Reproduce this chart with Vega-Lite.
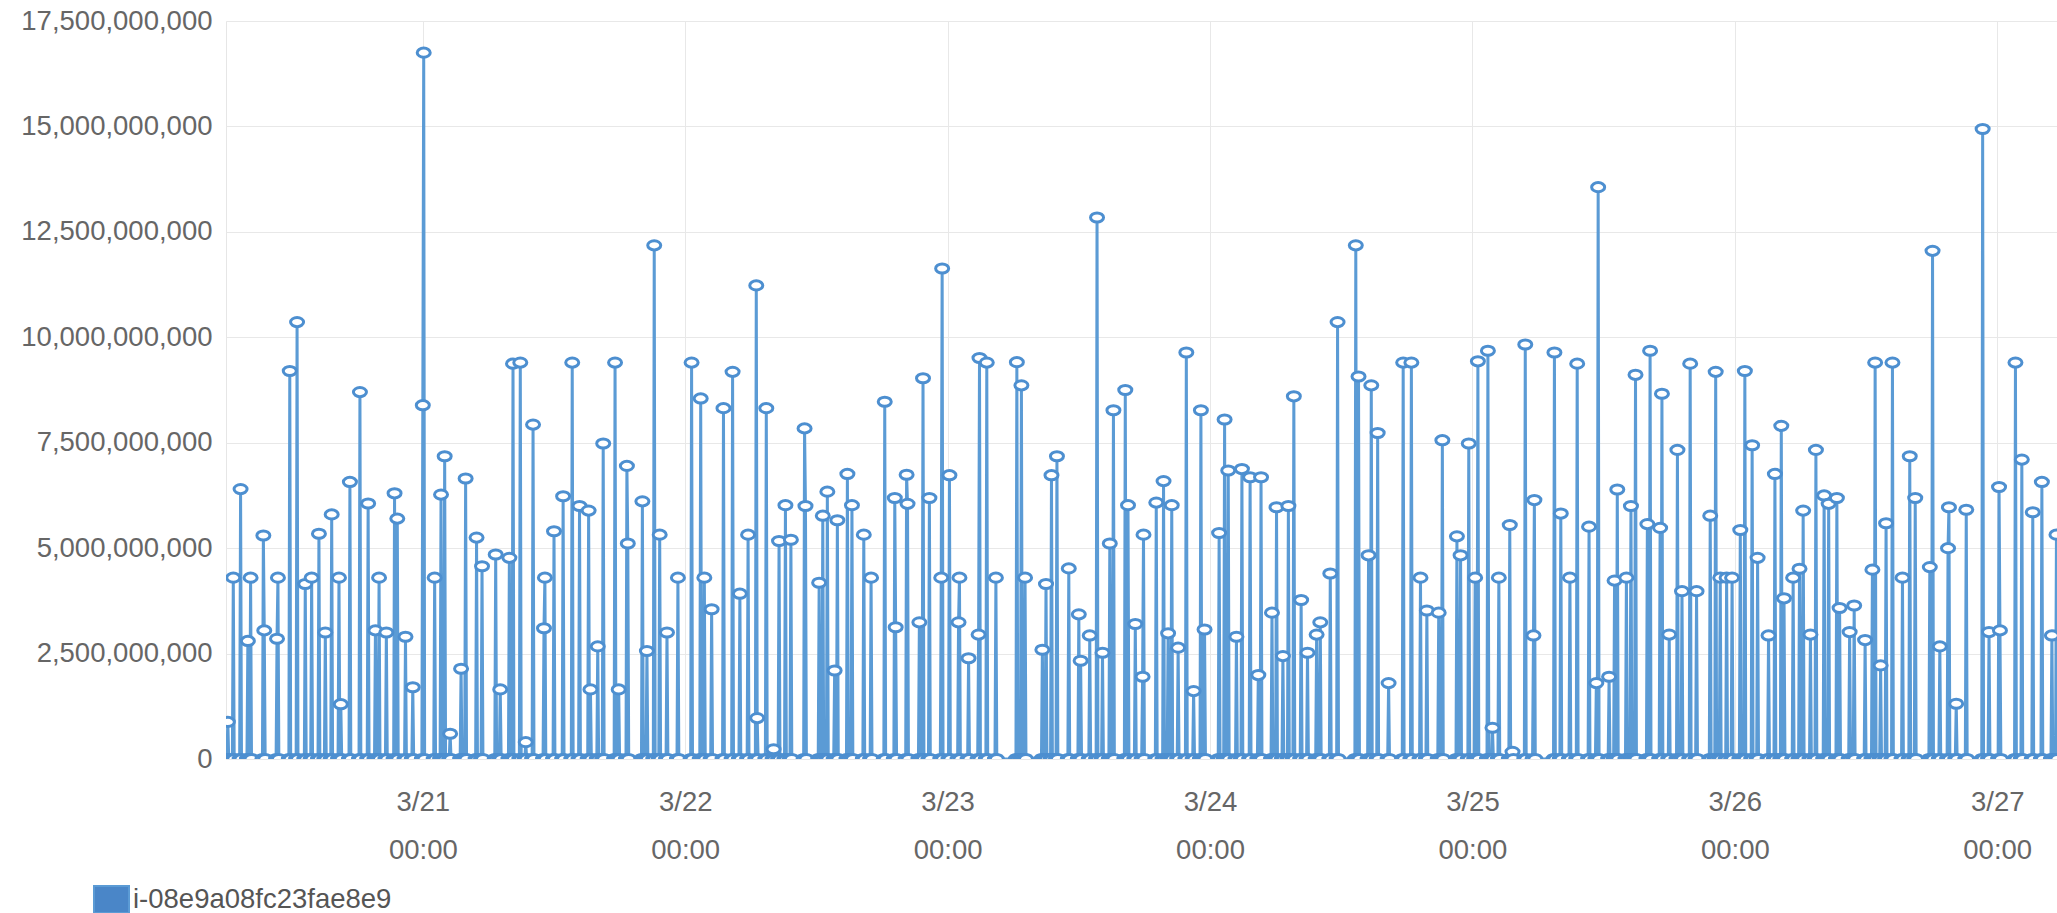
{
"$schema": "https://vega.github.io/schema/vega-lite/v6.json",
"width": 1831,
"height": 738,
"autosize": {"type": "none"},
"padding": {"left": 226, "top": 21, "right": 0, "bottom": 154},
"background": "white",
"config": {"view": {"stroke": "#e6e6e6"}, "font": "Liberation Sans"},
"data": {"values": [
{"t":"2018-03-20T06:00","v":0},{"t":"2018-03-20T06:05","v":0},{"t":"2018-03-20T06:10","v":8.8e8},{"t":"2018-03-20T06:15","v":0},
{"t":"2018-03-20T06:35","v":0},{"t":"2018-03-20T06:40","v":4.3e9},{"t":"2018-03-20T06:45","v":0},
{"t":"2018-03-20T07:15","v":0},{"t":"2018-03-20T07:20","v":6.4e9},{"t":"2018-03-20T07:25","v":0},
{"t":"2018-03-20T07:55","v":0},{"t":"2018-03-20T08:00","v":2.8e9},{"t":"2018-03-20T08:05","v":0},
{"t":"2018-03-20T08:10","v":0},{"t":"2018-03-20T08:15","v":4.3e9},{"t":"2018-03-20T08:20","v":0},
{"t":"2018-03-20T09:20","v":0},{"t":"2018-03-20T09:25","v":5.3e9},{"t":"2018-03-20T09:30","v":3.05e9},{"t":"2018-03-20T09:35","v":0},
{"t":"2018-03-20T10:35","v":0},{"t":"2018-03-20T10:40","v":2.85e9},{"t":"2018-03-20T10:45","v":4.3e9},{"t":"2018-03-20T10:50","v":0},
{"t":"2018-03-20T11:45","v":0},{"t":"2018-03-20T11:50","v":9.2e9},{"t":"2018-03-20T11:55","v":0},
{"t":"2018-03-20T12:25","v":0},{"t":"2018-03-20T12:30","v":1.036e10},{"t":"2018-03-20T12:35","v":0},
{"t":"2018-03-20T13:10","v":0},{"t":"2018-03-20T13:15","v":4.15e9},{"t":"2018-03-20T13:20","v":0},
{"t":"2018-03-20T13:45","v":0},{"t":"2018-03-20T13:50","v":4.3e9},{"t":"2018-03-20T13:55","v":0},
{"t":"2018-03-20T14:25","v":0},{"t":"2018-03-20T14:30","v":5.34e9},{"t":"2018-03-20T14:35","v":0},
{"t":"2018-03-20T15:00","v":0},{"t":"2018-03-20T15:05","v":3.0e9},{"t":"2018-03-20T15:10","v":0},
{"t":"2018-03-20T15:35","v":0},{"t":"2018-03-20T15:40","v":5.8e9},{"t":"2018-03-20T15:45","v":0},
{"t":"2018-03-20T16:15","v":0},{"t":"2018-03-20T16:20","v":4.3e9},{"t":"2018-03-20T16:25","v":0},{"t":"2018-03-20T16:30","v":1.3e9},{"t":"2018-03-20T16:35","v":0},
{"t":"2018-03-20T17:15","v":0},{"t":"2018-03-20T17:20","v":6.57e9},{"t":"2018-03-20T17:25","v":0},
{"t":"2018-03-20T18:10","v":0},{"t":"2018-03-20T18:15","v":8.7e9},{"t":"2018-03-20T18:20","v":0},
{"t":"2018-03-20T18:55","v":0},{"t":"2018-03-20T19:00","v":6.06e9},{"t":"2018-03-20T19:05","v":0},
{"t":"2018-03-20T19:35","v":0},{"t":"2018-03-20T19:40","v":3.05e9},{"t":"2018-03-20T19:45","v":0},
{"t":"2018-03-20T19:55","v":0},{"t":"2018-03-20T20:00","v":4.3e9},{"t":"2018-03-20T20:05","v":0},
{"t":"2018-03-20T20:35","v":0},{"t":"2018-03-20T20:40","v":3.0e9},{"t":"2018-03-20T20:45","v":0},
{"t":"2018-03-20T21:20","v":0},{"t":"2018-03-20T21:25","v":6.3e9},{"t":"2018-03-20T21:30","v":0},
{"t":"2018-03-20T21:35","v":0},{"t":"2018-03-20T21:40","v":5.7e9},{"t":"2018-03-20T21:45","v":0},
{"t":"2018-03-20T22:20","v":0},{"t":"2018-03-20T22:25","v":2.9e9},{"t":"2018-03-20T22:30","v":0},
{"t":"2018-03-20T23:00","v":0},{"t":"2018-03-20T23:05","v":1.7e9},{"t":"2018-03-20T23:10","v":0},
{"t":"2018-03-20T23:55","v":0},{"t":"2018-03-21T00:00","v":8.39e9},{"t":"2018-03-21T00:05","v":1.675e10},{"t":"2018-03-21T00:10","v":0},
{"t":"2018-03-21T01:00","v":0},{"t":"2018-03-21T01:05","v":4.3e9},{"t":"2018-03-21T01:10","v":0},
{"t":"2018-03-21T01:35","v":0},{"t":"2018-03-21T01:40","v":6.27e9},{"t":"2018-03-21T01:45","v":0},
{"t":"2018-03-21T01:55","v":0},{"t":"2018-03-21T02:00","v":7.18e9},{"t":"2018-03-21T02:05","v":0},
{"t":"2018-03-21T02:25","v":0},{"t":"2018-03-21T02:30","v":6.0e8},{"t":"2018-03-21T02:35","v":0},
{"t":"2018-03-21T03:25","v":0},{"t":"2018-03-21T03:30","v":2.14e9},{"t":"2018-03-21T03:35","v":0},
{"t":"2018-03-21T03:50","v":0},{"t":"2018-03-21T03:55","v":6.65e9},{"t":"2018-03-21T04:00","v":0},
{"t":"2018-03-21T04:50","v":0},{"t":"2018-03-21T04:55","v":5.25e9},{"t":"2018-03-21T05:00","v":0},
{"t":"2018-03-21T05:20","v":0},{"t":"2018-03-21T05:25","v":4.57e9},{"t":"2018-03-21T05:30","v":0},
{"t":"2018-03-21T06:35","v":0},{"t":"2018-03-21T06:40","v":4.85e9},{"t":"2018-03-21T06:45","v":0},
{"t":"2018-03-21T07:00","v":0},{"t":"2018-03-21T07:05","v":1.65e9},{"t":"2018-03-21T07:10","v":0},
{"t":"2018-03-21T07:50","v":0},{"t":"2018-03-21T07:55","v":4.77e9},{"t":"2018-03-21T08:00","v":0},
{"t":"2018-03-21T08:10","v":0},{"t":"2018-03-21T08:15","v":9.375e9},{"t":"2018-03-21T08:20","v":0},
{"t":"2018-03-21T08:50","v":0},{"t":"2018-03-21T08:55","v":9.4e9},{"t":"2018-03-21T09:00","v":0},
{"t":"2018-03-21T09:20","v":0},{"t":"2018-03-21T09:25","v":4.0e8},{"t":"2018-03-21T09:30","v":0},
{"t":"2018-03-21T10:00","v":0},{"t":"2018-03-21T10:05","v":7.93e9},{"t":"2018-03-21T10:10","v":0},
{"t":"2018-03-21T11:00","v":0},{"t":"2018-03-21T11:05","v":3.1e9},{"t":"2018-03-21T11:10","v":4.3e9},{"t":"2018-03-21T11:15","v":0},
{"t":"2018-03-21T11:55","v":0},{"t":"2018-03-21T12:00","v":5.4e9},{"t":"2018-03-21T12:05","v":0},
{"t":"2018-03-21T12:45","v":0},{"t":"2018-03-21T12:50","v":6.23e9},{"t":"2018-03-21T12:55","v":0},
{"t":"2018-03-21T13:35","v":0},{"t":"2018-03-21T13:40","v":9.4e9},{"t":"2018-03-21T13:45","v":0},
{"t":"2018-03-21T14:15","v":0},{"t":"2018-03-21T14:20","v":6.0e9},{"t":"2018-03-21T14:25","v":0},
{"t":"2018-03-21T15:05","v":0},{"t":"2018-03-21T15:10","v":5.89e9},{"t":"2018-03-21T15:15","v":0},{"t":"2018-03-21T15:20","v":1.65e9},{"t":"2018-03-21T15:25","v":0},
{"t":"2018-03-21T15:55","v":0},{"t":"2018-03-21T16:00","v":2.67e9},{"t":"2018-03-21T16:05","v":0},
{"t":"2018-03-21T16:25","v":0},{"t":"2018-03-21T16:30","v":7.48e9},{"t":"2018-03-21T16:35","v":0},
{"t":"2018-03-21T17:30","v":0},{"t":"2018-03-21T17:35","v":9.4e9},{"t":"2018-03-21T17:40","v":0},
{"t":"2018-03-21T17:50","v":0},{"t":"2018-03-21T17:55","v":1.65e9},{"t":"2018-03-21T18:00","v":0},
{"t":"2018-03-21T18:35","v":0},{"t":"2018-03-21T18:40","v":6.95e9},{"t":"2018-03-21T18:45","v":5.11e9},{"t":"2018-03-21T18:50","v":0},
{"t":"2018-03-21T20:00","v":0},{"t":"2018-03-21T20:05","v":6.11e9},{"t":"2018-03-21T20:10","v":0},
{"t":"2018-03-21T20:25","v":0},{"t":"2018-03-21T20:30","v":2.56e9},{"t":"2018-03-21T20:35","v":0},
{"t":"2018-03-21T21:05","v":0},{"t":"2018-03-21T21:10","v":1.218e10},{"t":"2018-03-21T21:15","v":0},
{"t":"2018-03-21T21:35","v":0},{"t":"2018-03-21T21:40","v":5.32e9},{"t":"2018-03-21T21:45","v":0},
{"t":"2018-03-21T22:15","v":0},{"t":"2018-03-21T22:20","v":3.0e9},{"t":"2018-03-21T22:25","v":0},
{"t":"2018-03-21T23:15","v":0},{"t":"2018-03-21T23:20","v":4.3e9},{"t":"2018-03-21T23:25","v":0},
{"t":"2018-03-22T00:30","v":0},{"t":"2018-03-22T00:35","v":9.4e9},{"t":"2018-03-22T00:40","v":0},
{"t":"2018-03-22T01:20","v":0},{"t":"2018-03-22T01:25","v":8.55e9},{"t":"2018-03-22T01:30","v":0},
{"t":"2018-03-22T01:40","v":0},{"t":"2018-03-22T01:45","v":4.3e9},{"t":"2018-03-22T01:50","v":0},
{"t":"2018-03-22T02:20","v":0},{"t":"2018-03-22T02:25","v":3.55e9},{"t":"2018-03-22T02:30","v":0},
{"t":"2018-03-22T03:25","v":0},{"t":"2018-03-22T03:30","v":8.32e9},{"t":"2018-03-22T03:35","v":0},
{"t":"2018-03-22T04:15","v":0},{"t":"2018-03-22T04:20","v":9.18e9},{"t":"2018-03-22T04:25","v":0},
{"t":"2018-03-22T04:55","v":0},{"t":"2018-03-22T05:00","v":3.92e9},{"t":"2018-03-22T05:05","v":0},
{"t":"2018-03-22T05:40","v":0},{"t":"2018-03-22T05:45","v":5.32e9},{"t":"2018-03-22T05:50","v":0},
{"t":"2018-03-22T06:25","v":0},{"t":"2018-03-22T06:30","v":1.123e10},{"t":"2018-03-22T06:35","v":9.7e8},{"t":"2018-03-22T06:40","v":0},
{"t":"2018-03-22T07:20","v":0},{"t":"2018-03-22T07:25","v":8.32e9},{"t":"2018-03-22T07:30","v":0},
{"t":"2018-03-22T08:00","v":0},{"t":"2018-03-22T08:05","v":2.3e8},{"t":"2018-03-22T08:10","v":0},
{"t":"2018-03-22T08:30","v":0},{"t":"2018-03-22T08:35","v":5.17e9},{"t":"2018-03-22T08:40","v":0},
{"t":"2018-03-22T09:05","v":0},{"t":"2018-03-22T09:10","v":6.02e9},{"t":"2018-03-22T09:15","v":0},
{"t":"2018-03-22T09:35","v":0},{"t":"2018-03-22T09:40","v":5.2e9},{"t":"2018-03-22T09:45","v":0},
{"t":"2018-03-22T10:50","v":0},{"t":"2018-03-22T10:55","v":7.84e9},{"t":"2018-03-22T11:00","v":6.0e9},{"t":"2018-03-22T11:05","v":0},
{"t":"2018-03-22T12:10","v":0},{"t":"2018-03-22T12:15","v":4.18e9},{"t":"2018-03-22T12:20","v":0},
{"t":"2018-03-22T12:30","v":0},{"t":"2018-03-22T12:35","v":5.77e9},{"t":"2018-03-22T12:40","v":0},
{"t":"2018-03-22T12:55","v":0},{"t":"2018-03-22T13:00","v":6.34e9},{"t":"2018-03-22T13:05","v":0},
{"t":"2018-03-22T13:35","v":0},{"t":"2018-03-22T13:40","v":2.1e9},{"t":"2018-03-22T13:45","v":0},
{"t":"2018-03-22T13:50","v":0},{"t":"2018-03-22T13:55","v":5.66e9},{"t":"2018-03-22T14:00","v":0},
{"t":"2018-03-22T14:45","v":0},{"t":"2018-03-22T14:50","v":6.76e9},{"t":"2018-03-22T14:55","v":0},
{"t":"2018-03-22T15:10","v":0},{"t":"2018-03-22T15:15","v":6.02e9},{"t":"2018-03-22T15:20","v":0},
{"t":"2018-03-22T16:15","v":0},{"t":"2018-03-22T16:20","v":5.32e9},{"t":"2018-03-22T16:25","v":0},
{"t":"2018-03-22T16:55","v":0},{"t":"2018-03-22T17:00","v":4.3e9},{"t":"2018-03-22T17:05","v":0},
{"t":"2018-03-22T18:10","v":0},{"t":"2018-03-22T18:15","v":8.47e9},{"t":"2018-03-22T18:20","v":0},
{"t":"2018-03-22T19:05","v":0},{"t":"2018-03-22T19:10","v":6.19e9},{"t":"2018-03-22T19:15","v":3.125e9},{"t":"2018-03-22T19:20","v":0},
{"t":"2018-03-22T20:10","v":0},{"t":"2018-03-22T20:15","v":6.74e9},{"t":"2018-03-22T20:20","v":6.05e9},{"t":"2018-03-22T20:25","v":0},
{"t":"2018-03-22T21:20","v":0},{"t":"2018-03-22T21:25","v":3.24e9},{"t":"2018-03-22T21:30","v":0},
{"t":"2018-03-22T21:40","v":0},{"t":"2018-03-22T21:45","v":9.03e9},{"t":"2018-03-22T21:50","v":0},
{"t":"2018-03-22T22:15","v":0},{"t":"2018-03-22T22:20","v":6.19e9},{"t":"2018-03-22T22:25","v":0},
{"t":"2018-03-22T23:20","v":0},{"t":"2018-03-22T23:25","v":4.3e9},{"t":"2018-03-22T23:30","v":1.163e10},{"t":"2018-03-22T23:35","v":0},
{"t":"2018-03-23T00:05","v":0},{"t":"2018-03-23T00:10","v":6.73e9},{"t":"2018-03-23T00:15","v":0},
{"t":"2018-03-23T00:55","v":0},{"t":"2018-03-23T01:00","v":3.24e9},{"t":"2018-03-23T01:05","v":4.3e9},{"t":"2018-03-23T01:10","v":0},
{"t":"2018-03-23T01:50","v":0},{"t":"2018-03-23T01:55","v":2.39e9},{"t":"2018-03-23T02:00","v":0},
{"t":"2018-03-23T02:45","v":0},{"t":"2018-03-23T02:50","v":2.95e9},{"t":"2018-03-23T02:55","v":9.51e9},{"t":"2018-03-23T03:00","v":0},
{"t":"2018-03-23T03:30","v":0},{"t":"2018-03-23T03:35","v":9.4e9},{"t":"2018-03-23T03:40","v":0},
{"t":"2018-03-23T04:20","v":0},{"t":"2018-03-23T04:25","v":4.3e9},{"t":"2018-03-23T04:30","v":0},
{"t":"2018-03-23T06:15","v":0},{"t":"2018-03-23T06:20","v":9.41e9},{"t":"2018-03-23T06:25","v":0},
{"t":"2018-03-23T06:40","v":0},{"t":"2018-03-23T06:45","v":8.86e9},{"t":"2018-03-23T06:50","v":0},
{"t":"2018-03-23T07:00","v":0},{"t":"2018-03-23T07:05","v":4.3e9},{"t":"2018-03-23T07:10","v":0},
{"t":"2018-03-23T08:35","v":0},{"t":"2018-03-23T08:40","v":2.59e9},{"t":"2018-03-23T08:45","v":0},
{"t":"2018-03-23T08:55","v":0},{"t":"2018-03-23T09:00","v":4.15e9},{"t":"2018-03-23T09:05","v":0},
{"t":"2018-03-23T09:25","v":0},{"t":"2018-03-23T09:30","v":6.73e9},{"t":"2018-03-23T09:35","v":0},
{"t":"2018-03-23T09:55","v":0},{"t":"2018-03-23T10:00","v":7.18e9},{"t":"2018-03-23T10:05","v":0},
{"t":"2018-03-23T11:00","v":0},{"t":"2018-03-23T11:05","v":4.52e9},{"t":"2018-03-23T11:10","v":0},
{"t":"2018-03-23T11:55","v":0},{"t":"2018-03-23T12:00","v":3.43e9},{"t":"2018-03-23T12:05","v":0},{"t":"2018-03-23T12:10","v":2.33e9},{"t":"2018-03-23T12:15","v":0},
{"t":"2018-03-23T12:55","v":0},{"t":"2018-03-23T13:00","v":2.93e9},{"t":"2018-03-23T13:05","v":0},
{"t":"2018-03-23T13:35","v":0},{"t":"2018-03-23T13:40","v":1.284e10},{"t":"2018-03-23T13:45","v":0},
{"t":"2018-03-23T14:05","v":0},{"t":"2018-03-23T14:10","v":2.52e9},{"t":"2018-03-23T14:15","v":0},
{"t":"2018-03-23T14:45","v":0},{"t":"2018-03-23T14:50","v":5.11e9},{"t":"2018-03-23T14:55","v":0},
{"t":"2018-03-23T15:05","v":0},{"t":"2018-03-23T15:10","v":8.27e9},{"t":"2018-03-23T15:15","v":0},
{"t":"2018-03-23T16:10","v":0},{"t":"2018-03-23T16:15","v":8.75e9},{"t":"2018-03-23T16:20","v":0},
{"t":"2018-03-23T16:25","v":0},{"t":"2018-03-23T16:30","v":6.02e9},{"t":"2018-03-23T16:35","v":0},
{"t":"2018-03-23T17:05","v":0},{"t":"2018-03-23T17:10","v":3.2e9},{"t":"2018-03-23T17:15","v":0},
{"t":"2018-03-23T17:45","v":0},{"t":"2018-03-23T17:50","v":1.95e9},{"t":"2018-03-23T17:55","v":5.32e9},{"t":"2018-03-23T18:00","v":0},
{"t":"2018-03-23T19:00","v":0},{"t":"2018-03-23T19:05","v":6.08e9},{"t":"2018-03-23T19:10","v":0},
{"t":"2018-03-23T19:40","v":0},{"t":"2018-03-23T19:45","v":6.59e9},{"t":"2018-03-23T19:50","v":0},
{"t":"2018-03-23T20:05","v":0},{"t":"2018-03-23T20:10","v":2.98e9},{"t":"2018-03-23T20:15","v":0},
{"t":"2018-03-23T20:25","v":0},{"t":"2018-03-23T20:30","v":6.02e9},{"t":"2018-03-23T20:35","v":0},
{"t":"2018-03-23T21:00","v":0},{"t":"2018-03-23T21:05","v":2.64e9},{"t":"2018-03-23T21:10","v":0},
{"t":"2018-03-23T21:45","v":0},{"t":"2018-03-23T21:50","v":9.64e9},{"t":"2018-03-23T21:55","v":0},
{"t":"2018-03-23T22:25","v":0},{"t":"2018-03-23T22:30","v":1.61e9},{"t":"2018-03-23T22:35","v":0},
{"t":"2018-03-23T23:05","v":0},{"t":"2018-03-23T23:10","v":8.27e9},{"t":"2018-03-23T23:15","v":0},
{"t":"2018-03-23T23:25","v":0},{"t":"2018-03-23T23:30","v":3.07e9},{"t":"2018-03-23T23:35","v":0},
{"t":"2018-03-24T00:45","v":0},{"t":"2018-03-24T00:50","v":5.36e9},{"t":"2018-03-24T00:55","v":0},
{"t":"2018-03-24T01:15","v":0},{"t":"2018-03-24T01:20","v":8.05e9},{"t":"2018-03-24T01:25","v":0},
{"t":"2018-03-24T01:35","v":0},{"t":"2018-03-24T01:40","v":6.84e9},{"t":"2018-03-24T01:45","v":0},
{"t":"2018-03-24T02:20","v":0},{"t":"2018-03-24T02:25","v":2.9e9},{"t":"2018-03-24T02:30","v":0},
{"t":"2018-03-24T02:50","v":0},{"t":"2018-03-24T02:55","v":6.875e9},{"t":"2018-03-24T03:00","v":0},
{"t":"2018-03-24T03:35","v":0},{"t":"2018-03-24T03:40","v":6.68e9},{"t":"2018-03-24T03:45","v":0},
{"t":"2018-03-24T04:20","v":0},{"t":"2018-03-24T04:25","v":1.99e9},{"t":"2018-03-24T04:30","v":0},
{"t":"2018-03-24T04:35","v":0},{"t":"2018-03-24T04:40","v":6.68e9},{"t":"2018-03-24T04:45","v":0},
{"t":"2018-03-24T05:35","v":0},{"t":"2018-03-24T05:40","v":3.47e9},{"t":"2018-03-24T05:45","v":0},
{"t":"2018-03-24T06:00","v":0},{"t":"2018-03-24T06:05","v":5.97e9},{"t":"2018-03-24T06:10","v":0},
{"t":"2018-03-24T06:35","v":0},{"t":"2018-03-24T06:40","v":2.44e9},{"t":"2018-03-24T06:45","v":0},
{"t":"2018-03-24T07:05","v":0},{"t":"2018-03-24T07:10","v":6.0e9},{"t":"2018-03-24T07:15","v":0},
{"t":"2018-03-24T07:35","v":0},{"t":"2018-03-24T07:40","v":8.6e9},{"t":"2018-03-24T07:45","v":0},
{"t":"2018-03-24T08:15","v":0},{"t":"2018-03-24T08:20","v":3.77e9},{"t":"2018-03-24T08:25","v":0},
{"t":"2018-03-24T08:50","v":0},{"t":"2018-03-24T08:55","v":2.52e9},{"t":"2018-03-24T09:00","v":0},
{"t":"2018-03-24T09:40","v":0},{"t":"2018-03-24T09:45","v":2.95e9},{"t":"2018-03-24T09:50","v":0},
{"t":"2018-03-24T10:00","v":0},{"t":"2018-03-24T10:05","v":3.24e9},{"t":"2018-03-24T10:10","v":0},
{"t":"2018-03-24T10:55","v":0},{"t":"2018-03-24T11:00","v":4.4e9},{"t":"2018-03-24T11:05","v":0},
{"t":"2018-03-24T11:35","v":0},{"t":"2018-03-24T11:40","v":1.036e10},{"t":"2018-03-24T11:45","v":0},
{"t":"2018-03-24T13:15","v":0},{"t":"2018-03-24T13:20","v":1.218e10},{"t":"2018-03-24T13:25","v":0},
{"t":"2018-03-24T13:30","v":0},{"t":"2018-03-24T13:35","v":9.07e9},{"t":"2018-03-24T13:40","v":0},
{"t":"2018-03-24T14:25","v":0},{"t":"2018-03-24T14:30","v":4.83e9},{"t":"2018-03-24T14:35","v":0},
{"t":"2018-03-24T14:40","v":0},{"t":"2018-03-24T14:45","v":8.86e9},{"t":"2018-03-24T14:50","v":0},
{"t":"2018-03-24T15:15","v":0},{"t":"2018-03-24T15:20","v":7.73e9},{"t":"2018-03-24T15:25","v":0},
{"t":"2018-03-24T16:15","v":0},{"t":"2018-03-24T16:20","v":1.8e9},{"t":"2018-03-24T16:25","v":0},
{"t":"2018-03-24T17:35","v":0},{"t":"2018-03-24T17:40","v":9.4e9},{"t":"2018-03-24T17:45","v":0},
{"t":"2018-03-24T18:20","v":0},{"t":"2018-03-24T18:25","v":9.4e9},{"t":"2018-03-24T18:30","v":0},
{"t":"2018-03-24T19:10","v":0},{"t":"2018-03-24T19:15","v":4.3e9},{"t":"2018-03-24T19:20","v":0},
{"t":"2018-03-24T19:45","v":0},{"t":"2018-03-24T19:50","v":3.52e9},{"t":"2018-03-24T19:55","v":0},
{"t":"2018-03-24T20:50","v":0},{"t":"2018-03-24T20:55","v":3.47e9},{"t":"2018-03-24T21:00","v":0},
{"t":"2018-03-24T21:10","v":0},{"t":"2018-03-24T21:15","v":7.56e9},{"t":"2018-03-24T21:20","v":0},
{"t":"2018-03-24T22:30","v":0},{"t":"2018-03-24T22:35","v":5.28e9},{"t":"2018-03-24T22:40","v":0},
{"t":"2018-03-24T22:50","v":0},{"t":"2018-03-24T22:55","v":4.83e9},{"t":"2018-03-24T23:00","v":0},
{"t":"2018-03-24T23:35","v":0},{"t":"2018-03-24T23:40","v":7.48e9},{"t":"2018-03-24T23:45","v":0},
{"t":"2018-03-25T00:10","v":0},{"t":"2018-03-25T00:15","v":4.3e9},{"t":"2018-03-25T00:20","v":0},
{"t":"2018-03-25T00:25","v":0},{"t":"2018-03-25T00:30","v":9.43e9},{"t":"2018-03-25T00:35","v":0},
{"t":"2018-03-25T01:20","v":0},{"t":"2018-03-25T01:25","v":9.68e9},{"t":"2018-03-25T01:30","v":0},
{"t":"2018-03-25T01:45","v":0},{"t":"2018-03-25T01:50","v":7.4e8},{"t":"2018-03-25T01:55","v":0},
{"t":"2018-03-25T02:20","v":0},{"t":"2018-03-25T02:25","v":4.3e9},{"t":"2018-03-25T02:30","v":0},
{"t":"2018-03-25T03:20","v":0},{"t":"2018-03-25T03:25","v":5.55e9},{"t":"2018-03-25T03:30","v":0},
{"t":"2018-03-25T03:35","v":0},{"t":"2018-03-25T03:40","v":1.7e8},{"t":"2018-03-25T03:45","v":0},
{"t":"2018-03-25T04:45","v":0},{"t":"2018-03-25T04:50","v":9.83e9},{"t":"2018-03-25T04:55","v":0},
{"t":"2018-03-25T05:30","v":0},{"t":"2018-03-25T05:35","v":2.93e9},{"t":"2018-03-25T05:40","v":6.14e9},{"t":"2018-03-25T05:45","v":0},
{"t":"2018-03-25T07:25","v":0},{"t":"2018-03-25T07:30","v":9.64e9},{"t":"2018-03-25T07:35","v":0},
{"t":"2018-03-25T08:00","v":0},{"t":"2018-03-25T08:05","v":5.82e9},{"t":"2018-03-25T08:10","v":0},
{"t":"2018-03-25T08:50","v":0},{"t":"2018-03-25T08:55","v":4.3e9},{"t":"2018-03-25T09:00","v":0},
{"t":"2018-03-25T09:30","v":0},{"t":"2018-03-25T09:35","v":9.375e9},{"t":"2018-03-25T09:40","v":0},
{"t":"2018-03-25T10:35","v":0},{"t":"2018-03-25T10:40","v":5.51e9},{"t":"2018-03-25T10:45","v":0},
{"t":"2018-03-25T11:15","v":0},{"t":"2018-03-25T11:20","v":1.8e9},{"t":"2018-03-25T11:25","v":0},{"t":"2018-03-25T11:30","v":1.356e10},{"t":"2018-03-25T11:35","v":0},
{"t":"2018-03-25T12:25","v":0},{"t":"2018-03-25T12:30","v":1.95e9},{"t":"2018-03-25T12:35","v":0},
{"t":"2018-03-25T12:55","v":0},{"t":"2018-03-25T13:00","v":4.23e9},{"t":"2018-03-25T13:05","v":0},
{"t":"2018-03-25T13:10","v":0},{"t":"2018-03-25T13:15","v":6.39e9},{"t":"2018-03-25T13:20","v":0},
{"t":"2018-03-25T14:00","v":0},{"t":"2018-03-25T14:05","v":4.3e9},{"t":"2018-03-25T14:10","v":0},
{"t":"2018-03-25T14:25","v":0},{"t":"2018-03-25T14:30","v":6.0e9},{"t":"2018-03-25T14:35","v":0},
{"t":"2018-03-25T14:50","v":0},{"t":"2018-03-25T14:55","v":9.11e9},{"t":"2018-03-25T15:00","v":0},
{"t":"2018-03-25T15:55","v":0},{"t":"2018-03-25T16:00","v":5.57e9},{"t":"2018-03-25T16:05","v":0},
{"t":"2018-03-25T16:10","v":0},{"t":"2018-03-25T16:15","v":9.68e9},{"t":"2018-03-25T16:20","v":0},
{"t":"2018-03-25T17:05","v":0},{"t":"2018-03-25T17:10","v":5.48e9},{"t":"2018-03-25T17:15","v":0},{"t":"2018-03-25T17:20","v":8.66e9},{"t":"2018-03-25T17:25","v":0},
{"t":"2018-03-25T17:55","v":0},{"t":"2018-03-25T18:00","v":2.95e9},{"t":"2018-03-25T18:05","v":0},
{"t":"2018-03-25T18:40","v":0},{"t":"2018-03-25T18:45","v":7.33e9},{"t":"2018-03-25T18:50","v":0},
{"t":"2018-03-25T19:05","v":0},{"t":"2018-03-25T19:10","v":3.98e9},{"t":"2018-03-25T19:15","v":0},
{"t":"2018-03-25T19:50","v":0},{"t":"2018-03-25T19:55","v":9.375e9},{"t":"2018-03-25T20:00","v":0},
{"t":"2018-03-25T20:25","v":0},{"t":"2018-03-25T20:30","v":3.98e9},{"t":"2018-03-25T20:35","v":0},
{"t":"2018-03-25T21:40","v":0},{"t":"2018-03-25T21:45","v":5.77e9},{"t":"2018-03-25T21:50","v":0},
{"t":"2018-03-25T22:10","v":0},{"t":"2018-03-25T22:15","v":9.18e9},{"t":"2018-03-25T22:20","v":0},
{"t":"2018-03-25T22:35","v":0},{"t":"2018-03-25T22:40","v":4.3e9},{"t":"2018-03-25T22:45","v":0},
{"t":"2018-03-25T23:10","v":0},{"t":"2018-03-25T23:15","v":4.3e9},{"t":"2018-03-25T23:20","v":0},
{"t":"2018-03-25T23:40","v":0},{"t":"2018-03-25T23:45","v":4.3e9},{"t":"2018-03-25T23:50","v":0},
{"t":"2018-03-26T00:25","v":0},{"t":"2018-03-26T00:30","v":5.43e9},{"t":"2018-03-26T00:35","v":0},
{"t":"2018-03-26T00:50","v":0},{"t":"2018-03-26T00:55","v":9.2e9},{"t":"2018-03-26T01:00","v":0},
{"t":"2018-03-26T01:30","v":0},{"t":"2018-03-26T01:35","v":7.44e9},{"t":"2018-03-26T01:40","v":0},
{"t":"2018-03-26T02:00","v":0},{"t":"2018-03-26T02:05","v":4.77e9},{"t":"2018-03-26T02:10","v":0},
{"t":"2018-03-26T03:00","v":0},{"t":"2018-03-26T03:05","v":2.93e9},{"t":"2018-03-26T03:10","v":0},
{"t":"2018-03-26T03:35","v":0},{"t":"2018-03-26T03:40","v":6.76e9},{"t":"2018-03-26T03:45","v":0},
{"t":"2018-03-26T04:10","v":0},{"t":"2018-03-26T04:15","v":7.9e9},{"t":"2018-03-26T04:20","v":0},
{"t":"2018-03-26T04:25","v":0},{"t":"2018-03-26T04:30","v":3.81e9},{"t":"2018-03-26T04:35","v":0},
{"t":"2018-03-26T05:15","v":0},{"t":"2018-03-26T05:20","v":4.3e9},{"t":"2018-03-26T05:25","v":0},
{"t":"2018-03-26T05:50","v":0},{"t":"2018-03-26T05:55","v":4.51e9},{"t":"2018-03-26T06:00","v":0},
{"t":"2018-03-26T06:10","v":0},{"t":"2018-03-26T06:15","v":5.89e9},{"t":"2018-03-26T06:20","v":0},
{"t":"2018-03-26T06:50","v":0},{"t":"2018-03-26T06:55","v":2.95e9},{"t":"2018-03-26T07:00","v":0},
{"t":"2018-03-26T07:20","v":0},{"t":"2018-03-26T07:25","v":7.33e9},{"t":"2018-03-26T07:30","v":0},
{"t":"2018-03-26T08:05","v":0},{"t":"2018-03-26T08:10","v":6.25e9},{"t":"2018-03-26T08:15","v":0},
{"t":"2018-03-26T08:30","v":0},{"t":"2018-03-26T08:35","v":6.05e9},{"t":"2018-03-26T08:40","v":0},
{"t":"2018-03-26T09:15","v":0},{"t":"2018-03-26T09:20","v":6.19e9},{"t":"2018-03-26T09:25","v":0},
{"t":"2018-03-26T09:30","v":0},{"t":"2018-03-26T09:35","v":3.58e9},{"t":"2018-03-26T09:40","v":0},
{"t":"2018-03-26T10:25","v":0},{"t":"2018-03-26T10:30","v":3.01e9},{"t":"2018-03-26T10:35","v":0},
{"t":"2018-03-26T10:50","v":0},{"t":"2018-03-26T10:55","v":3.64e9},{"t":"2018-03-26T11:00","v":0},
{"t":"2018-03-26T11:50","v":0},{"t":"2018-03-26T11:55","v":2.82e9},{"t":"2018-03-26T12:00","v":0},
{"t":"2018-03-26T12:30","v":0},{"t":"2018-03-26T12:35","v":4.49e9},{"t":"2018-03-26T12:40","v":0},
{"t":"2018-03-26T12:45","v":0},{"t":"2018-03-26T12:50","v":9.4e9},{"t":"2018-03-26T12:55","v":0},
{"t":"2018-03-26T13:15","v":0},{"t":"2018-03-26T13:20","v":2.22e9},{"t":"2018-03-26T13:25","v":0},
{"t":"2018-03-26T13:45","v":0},{"t":"2018-03-26T13:50","v":5.59e9},{"t":"2018-03-26T13:55","v":0},
{"t":"2018-03-26T14:20","v":0},{"t":"2018-03-26T14:25","v":9.4e9},{"t":"2018-03-26T14:30","v":0},
{"t":"2018-03-26T15:15","v":0},{"t":"2018-03-26T15:20","v":4.3e9},{"t":"2018-03-26T15:25","v":0},
{"t":"2018-03-26T15:55","v":0},{"t":"2018-03-26T16:00","v":7.18e9},{"t":"2018-03-26T16:05","v":0},
{"t":"2018-03-26T16:25","v":0},{"t":"2018-03-26T16:30","v":6.19e9},{"t":"2018-03-26T16:35","v":0},
{"t":"2018-03-26T17:45","v":0},{"t":"2018-03-26T17:50","v":4.55e9},{"t":"2018-03-26T17:55","v":0},
{"t":"2018-03-26T18:00","v":0},{"t":"2018-03-26T18:05","v":1.205e10},{"t":"2018-03-26T18:10","v":0},
{"t":"2018-03-26T18:40","v":0},{"t":"2018-03-26T18:45","v":2.67e9},{"t":"2018-03-26T18:50","v":0},
{"t":"2018-03-26T19:25","v":0},{"t":"2018-03-26T19:30","v":5.0e9},{"t":"2018-03-26T19:35","v":5.97e9},{"t":"2018-03-26T19:40","v":0},
{"t":"2018-03-26T20:10","v":0},{"t":"2018-03-26T20:15","v":1.31e9},{"t":"2018-03-26T20:20","v":0},
{"t":"2018-03-26T21:05","v":0},{"t":"2018-03-26T21:10","v":5.91e9},{"t":"2018-03-26T21:15","v":0},
{"t":"2018-03-26T22:35","v":0},{"t":"2018-03-26T22:40","v":1.494e10},{"t":"2018-03-26T22:45","v":0},
{"t":"2018-03-26T23:10","v":0},{"t":"2018-03-26T23:15","v":3.01e9},{"t":"2018-03-26T23:20","v":0},
{"t":"2018-03-27T00:05","v":0},{"t":"2018-03-27T00:10","v":6.45e9},{"t":"2018-03-27T00:15","v":3.05e9},{"t":"2018-03-27T00:20","v":0},
{"t":"2018-03-27T01:35","v":0},{"t":"2018-03-27T01:40","v":9.4e9},{"t":"2018-03-27T01:45","v":0},
{"t":"2018-03-27T02:10","v":0},{"t":"2018-03-27T02:15","v":7.1e9},{"t":"2018-03-27T02:20","v":0},
{"t":"2018-03-27T03:10","v":0},{"t":"2018-03-27T03:15","v":5.85e9},{"t":"2018-03-27T03:20","v":0},
{"t":"2018-03-27T04:00","v":0},{"t":"2018-03-27T04:05","v":6.57e9},{"t":"2018-03-27T04:10","v":0},
{"t":"2018-03-27T04:55","v":0},{"t":"2018-03-27T05:00","v":2.93e9},{"t":"2018-03-27T05:05","v":0},
{"t":"2018-03-27T05:20","v":0},{"t":"2018-03-27T05:25","v":5.32e9},{"t":"2018-03-27T05:30","v":0}
]},
"encoding": {
  "x": {"field": "t", "type": "temporal",
    "scale": {"domain": [{"year": 2018, "month": 3, "date": 20, "hours": 6}, {"year": 2018, "month": 3, "date": 27, "hours": 5, "minutes": 28}]},
    "axis": {"title": null, "grid": true, "gridColor": "#e8e8e8", "ticks": false, "domain": false,
      "values": [{"year": 2018, "month": 3, "date": 21}, {"year": 2018, "month": 3, "date": 22}, {"year": 2018, "month": 3, "date": 23}, {"year": 2018, "month": 3, "date": 24}, {"year": 2018, "month": 3, "date": 25}, {"year": 2018, "month": 3, "date": 26}, {"year": 2018, "month": 3, "date": 27}],
      "labelExpr": "[timeFormat(datum.value, '%-m/%d'), timeFormat(datum.value, '%H:%M')]",
      "labelFont": "Liberation Sans", "labelFontSize": 27.5, "labelColor": "#666666", "labelLineHeight": 48, "labelPadding": 29, "labelOverlap": false, "labelFlush": false, "labelLimit": 0}},
  "y": {"field": "v", "type": "quantitative",
    "scale": {"domain": [0, 17500000000], "nice": false},
    "axis": {"title": null, "grid": true, "gridColor": "#e8e8e8", "ticks": false, "domain": false,
      "values": [0, 2500000000, 5000000000, 7500000000, 10000000000, 12500000000, 15000000000, 17500000000],
      "format": ",.0f", "labelFont": "Liberation Sans", "labelFontSize": 27.5, "labelColor": "#666666", "labelPadding": 14, "labelLimit": 0}}
},
"layer": [
  {"mark": {"type": "line", "strokeWidth": 3, "clip": true},
   "encoding": {"color": {"datum": "i-08e9a08fc23fae8e9", "type": "nominal", "scale": {"range": ["#5b9bd5"]},
     "legend": {"title": null, "orient": "none", "legendX": -133, "legendY": 860, "padding": 0,
       "labelFont": "Liberation Sans", "labelFontSize": 27.5, "labelColor": "#555555", "labelOffset": 3, "labelLimit": 0,
       "symbolType": "M-1,-0.77H1V0.77H-1Z", "symbolSize": 1225,
       "encode": {"symbols": {"update": {"fill": {"value": "#4a86c8"}, "stroke": {"value": "#a9c9e8"}, "strokeWidth": {"value": 2}, "opacity": {"value": 1}, "shape": {"value": "M-1,-0.77H1V0.77H-1Z"}}}}}}}},
  {"mark": {"type": "point", "shape": "M-1,0A1,0.7 0 1,1 1,0A1,0.7 0 1,1 -1,0Z", "size": 170, "filled": false, "fill": "#ffffff", "fillOpacity": 1, "stroke": "#4d8fd0", "strokeWidth": 3, "opacity": 1, "clip": true}}
]
}
